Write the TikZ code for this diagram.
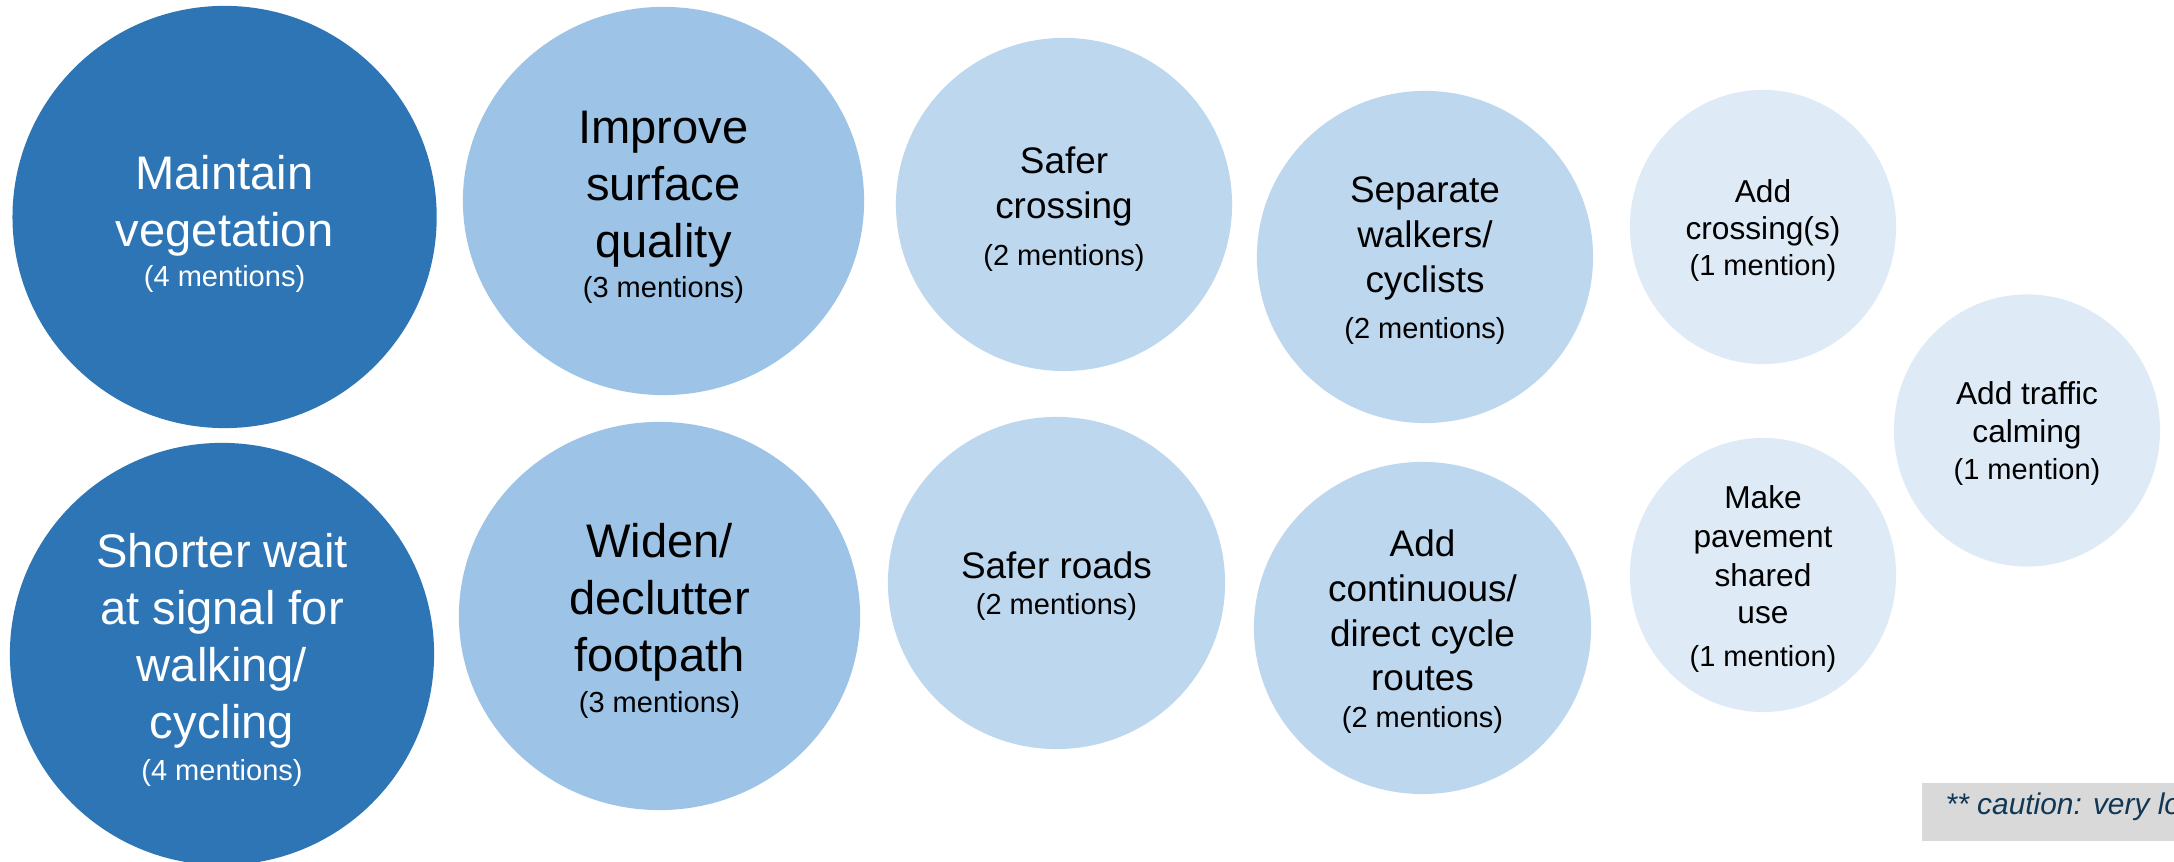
\documentclass[tikz,border=0pt]{standalone}
\usepackage{fontspec}
\setmainfont{Liberation Sans}
\usetikzlibrary{shapes.geometric}
\definecolor{bubdark}{HTML}{2E75B6}
\definecolor{bubmid}{HTML}{9DC3E6}
\definecolor{bublight}{HTML}{BDD7EE}
\definecolor{bubpale}{HTML}{DEEBF7}
\definecolor{capgray}{HTML}{D9D9D9}
\definecolor{captext}{RGB}{16,55,85}
\tikzset{
  bubble/.style={ellipse, inner sep=0pt, draw=none},
  lbl/.style={anchor=base, inner sep=0pt},
  bigtxt/.style={lbl, font=\fontsize{13.4}{16}\selectfont},
  medtxt/.style={lbl, font=\fontsize{10.5}{12.6}\selectfont},
  smltxt/.style={lbl, font=\fontsize{9}{10.8}\selectfont},
  cnttxt/.style={lbl, font=\fontsize{8.25}{9.9}\selectfont},
  captxt/.style={anchor=base west, inner sep=0pt, text=captext, font=\fontsize{8.5}{10.2}\selectfont\itshape},
}
\begin{document}
\begin{tikzpicture}[x=0.01cm,y=-0.01cm]
\useasboundingbox (0,0) rectangle (2174,862);
\clip (0,0) rectangle (2174,862);

% bubbles
\node[bubble, fill=bubdark, minimum width=4.24cm, minimum height=4.22cm] (c1) at (224.6,217) {};
\node[bubble, fill=bubdark, minimum width=4.24cm, minimum height=4.22cm] (c2) at (222,654) {};
\node[bubble, fill=bubmid, minimum width=4.01cm, minimum height=3.88cm] (c3) at (663.5,201) {};
\node[bubble, fill=bubmid, minimum width=4.01cm, minimum height=3.88cm] (c4) at (659.5,616) {};
\node[bubble, fill=bublight, minimum width=3.36cm, minimum height=3.33cm] (c5) at (1064,204.5) {};
\node[bubble, fill=bublight, minimum width=3.37cm, minimum height=3.32cm] (c6) at (1056.5,583) {};
\node[bubble, fill=bublight, minimum width=3.36cm, minimum height=3.32cm] (c7) at (1425,257) {};
\node[bubble, fill=bublight, minimum width=3.37cm, minimum height=3.32cm] (c8) at (1422.5,628) {};
\node[bubble, fill=bubpale, minimum width=2.66cm, minimum height=2.74cm] (c9) at (1763,227) {};
\node[bubble, fill=bubpale, minimum width=2.66cm, minimum height=2.74cm] (c10) at (1763,575) {};
\node[bubble, fill=bubpale, minimum width=2.66cm, minimum height=2.72cm] (c11) at (2027,430.5) {};

% Maintain vegetation
\node[bigtxt, text=white] (t1a) at (224.6,190) {Maintain};
\node[bigtxt, text=white] (t1b) at (224.6,247) {vegetation};
\node[cnttxt, text=white] (t1c) at (224.6,287) {(4 mentions)};
% Shorter wait
\node[bigtxt, text=white] (t2a) at (222,568) {Shorter wait};
\node[bigtxt, text=white] (t2b) at (222,625) {at signal for};
\node[bigtxt, text=white] (t2c) at (222,682) {walking/};
\node[bigtxt, text=white] (t2d) at (222,739) {cycling};
\node[cnttxt, text=white] (t2e) at (222,781) {(4 mentions)};
% Improve surface quality
\node[bigtxt] (t3a) at (663.5,144) {Improve};
\node[bigtxt] (t3b) at (663.5,201) {surface};
\node[bigtxt] (t3c) at (663.5,258) {quality};
\node[cnttxt] (t3d) at (663.5,298) {(3 mentions)};
% Widen/declutter footpath
\node[bigtxt] (t4a) at (659.5,558) {Widen/};
\node[bigtxt] (t4b) at (659.5,615) {declutter};
\node[bigtxt] (t4c) at (659.5,672) {footpath};
\node[cnttxt] (t4d) at (659.5,713) {(3 mentions)};
% Safer crossing
\node[medtxt] (t5a) at (1064,174) {Safer};
\node[medtxt] (t5b) at (1064,219) {crossing};
\node[cnttxt] (t5c) at (1064,266) {(2 mentions)};
% Safer roads
\node[medtxt] (t6a) at (1056.5,579) {Safer roads};
\node[cnttxt] (t6b) at (1056.5,615) {(2 mentions)};
% Separate walkers/cyclists
\node[medtxt] (t7a) at (1425,203) {Separate};
\node[medtxt] (t7b) at (1425,248) {walkers/};
\node[medtxt] (t7c) at (1425,293) {cyclists};
\node[cnttxt] (t7d) at (1425,339) {(2 mentions)};
% Add continuous/direct cycle routes
\node[medtxt] (t8a) at (1422.5,557) {Add};
\node[medtxt] (t8b) at (1422.5,602) {continuous/};
\node[medtxt] (t8c) at (1422.5,647) {direct cycle};
\node[medtxt] (t8d) at (1422.5,691) {routes};
\node[cnttxt] (t8e) at (1422.5,728) {(2 mentions)};
% Add crossing(s)
\node[smltxt] (t9a) at (1763,203) {Add};
\node[smltxt] (t9b) at (1763,240) {crossing(s)};
\node[cnttxt] (t9c) at (1763,276) {(1 mention)};
% Make pavement shared use
\node[smltxt] (t10a) at (1763,509) {Make};
\node[smltxt] (t10b) at (1763,548) {pavement};
\node[smltxt] (t10c) at (1763,587) {shared};
\node[smltxt] (t10d) at (1763,624) {use};
\node[cnttxt] (t10e) at (1763,667) {(1 mention)};
% Add traffic calming
\node[smltxt] (t11a) at (2027,405) {Add traffic};
\node[smltxt] (t11b) at (2027,443) {calming};
\node[cnttxt] (t11c) at (2027,480) {(1 mention)};

% caution box
\node[fill=capgray, inner sep=0pt, minimum width=2.70cm, minimum height=0.58cm, anchor=north west] (cbox) at (1921,782) {};
\node[captxt] (ctext) at (1945,815) {** caution: very low};
\end{tikzpicture}
\end{document}
